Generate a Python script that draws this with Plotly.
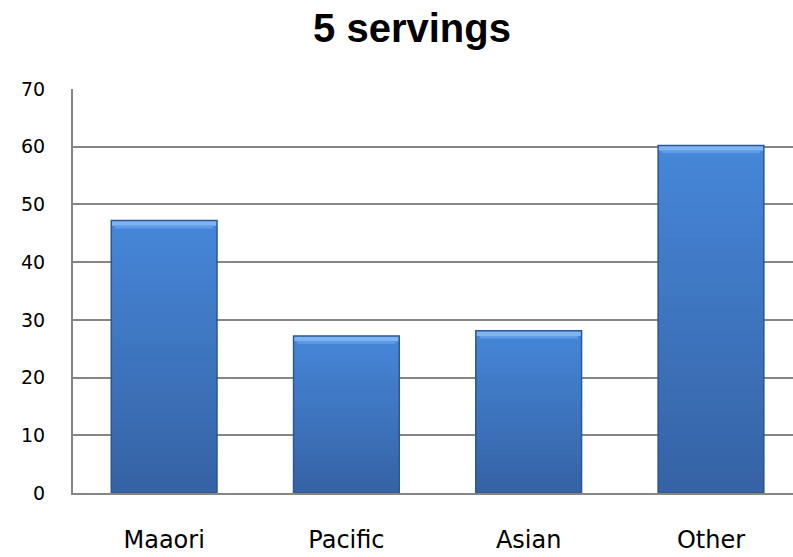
import plotly.graph_objects as go

categories = ["Maaori", "Pacific", "Asian", "Other"]
values = [47.2, 27.2, 28.1, 60.2]
y_ticks = [0, 10, 20, 30, 40, 50, 60, 70]
title_text = "5 servings"


def lerp_color(c1, c2, t):
    a = [int(c1[i:i + 2], 16) for i in (1, 3, 5)]
    b = [int(c2[i:i + 2], 16) for i in (1, 3, 5)]
    return "#%02x%02x%02x" % tuple(round(a[j] + (b[j] - a[j]) * t) for j in range(3))


fig = go.Figure()
n = 30
bottom_col, top_col = "#3562a3", "#4686d8"
bw = 0.58
# gradient: full-height bar first (top colour), then progressively shorter, darker bars from 0
for k in range(n):
    frac = 1 - k / n
    fig.add_trace(go.Bar(
        x=categories,
        y=[v * frac for v in values],
        width=bw,
        marker=dict(color=lerp_color(bottom_col, top_col, frac), line=dict(width=0)),
        hoverinfo="skip",
        showlegend=False,
    ))

# top bevel highlight
fig.add_trace(go.Bar(
    x=categories,
    y=[0.9 for v in values],
    base=[v - 0.9 for v in values],
    width=bw,
    marker=dict(color="#7db4f3", line=dict(width=0)),
    hoverinfo="skip",
    showlegend=False,
))
fig.add_trace(go.Bar(
    x=categories,
    y=[0.45 for v in values],
    base=[v - 1.35 for v in values],
    width=bw - 0.04,
    marker=dict(color="#5f9be6", line=dict(width=0)),
    hoverinfo="skip",
    showlegend=False,
))
# outline
fig.add_trace(go.Bar(
    x=categories,
    y=values,
    width=bw,
    marker=dict(color="rgba(0,0,0,0)", line=dict(color="#2d5790", width=1.5)),
    hoverinfo="skip",
    showlegend=False,
))

fig.update_layout(
    width=793,
    height=557,
    margin=dict(l=73, r=0, t=89, b=64),
    paper_bgcolor="white",
    plot_bgcolor="white",
    barmode="overlay",
    showlegend=False,
    hovermode=False,
    title=dict(
        text="<b>" + title_text + "</b>",
        font=dict(family="Liberation Sans, Arial, sans-serif", size=40, color="black"),
        x=412 / 793, xanchor="center", xref="container",
        y=1 - 28 / 557, yanchor="middle", yref="container",
    ),
    xaxis=dict(
        type="category",
        range=[-0.5, 3.45],
        showgrid=False,
        showline=True,
        linecolor="#868686",
        linewidth=2,
        ticks="",
        tickfont=dict(family="DejaVu Sans, sans-serif", size=24, color="black"),
        ticklabelstandoff=24,
        automargin=False,
    ),
    yaxis=dict(
        range=[0, 70],
        tickvals=y_ticks,
        showgrid=True,
        gridcolor="#868686",
        gridwidth=2,
        showline=True,
        linecolor="#868686",
        linewidth=2,
        zeroline=False,
        ticks="",
        tickfont=dict(family="DejaVu Sans, sans-serif", size=19, color="black"),
        ticklabelstandoff=22,
        automargin=False,
    ),
)

fig.write_html("out.html")
